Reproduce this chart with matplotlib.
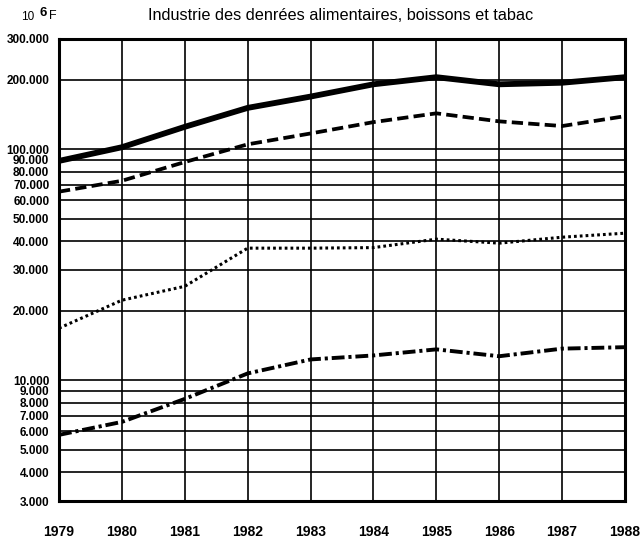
import matplotlib
matplotlib.use("Agg")
import matplotlib.pyplot as plt
from matplotlib.ticker import FixedLocator, NullLocator, NullFormatter

plt.rcParams['font.family'] = ['Liberation Sans', 'DejaVu Sans']

years = [1979, 1980, 1981, 1982, 1983, 1984, 1985, 1986, 1987, 1988]
series_solid = [89000, 102000, 125000, 151000, 169000, 191000, 205000, 191000, 194000, 205000]
series_dashed = [65500, 73000, 88000, 105000, 117000, 131000, 143000, 132000, 126000, 139000]
series_dotted = [16800, 22200, 25500, 37300, 37300, 37500, 40800, 39200, 41600, 43300]
series_dashdot = [5800, 6600, 8300, 10700, 12300, 12800, 13600, 12700, 13700, 13900]

y_ticks = [3000, 4000, 5000, 6000, 7000, 8000, 9000, 10000, 20000, 30000, 40000,
           50000, 60000, 70000, 80000, 90000, 100000, 200000, 300000]
y_labels = ["3.000", "4.000", "5.000", "6.000", "7.000", "8.000", "9.000", "10.000",
            "20.000", "30.000", "40.000", "50.000", "60.000", "70.000", "80.000",
            "90.000", "100.000", "200.000", "300.000"]
title = "Industrie des denrées alimentaires, boissons et tabac"

fig = plt.figure(figsize=(6.42, 5.41), dpi=100)
ax = fig.add_axes([59/642, 1 - 501/541, (625-59)/642, (501-39)/541])
ax.set_yscale('log')
ax.set_xlim(years[0], years[-1])
ax.set_ylim(3000, 300000)

for v in y_ticks[1:-1]:
    ax.axhline(v, color='black', lw=1.2, zorder=1)
for yr in years[1:-1]:
    ax.axvline(yr, color='black', lw=1.2, zorder=1)

ax.plot(years, series_solid, color='black', lw=4.2, solid_capstyle='butt', zorder=3)
ax.plot(years, series_dashed, color='black', lw=2.7, dashes=(3.0, 1.4), zorder=3)
ax.plot(years, series_dotted, color='black', lw=2.2, dashes=(0.9, 1.0), zorder=3)
ax.plot(years, series_dashdot, color='black', lw=2.8, dashes=(3.3, 1.0, 0.8, 1.0), zorder=3)

for s in ax.spines.values():
    s.set_linewidth(2.2)

ax.yaxis.set_major_locator(FixedLocator(y_ticks))
ax.set_yticklabels(y_labels)
ax.yaxis.set_minor_locator(NullLocator())
ax.yaxis.set_minor_formatter(NullFormatter())
ax.set_xticks(years)
ax.set_xticklabels([str(y) for y in years])
ax.tick_params(axis='y', length=0, pad=7, labelsize=8.5)
ax.tick_params(axis='x', length=0, pad=17, labelsize=10)
for lab in ax.get_yticklabels() + ax.get_xticklabels():
    lab.set_fontweight('bold')

fig.text(341/642, 1 - 15/541, title, ha='center', va='center', fontsize=11.7)
fig.text(21/642, 1 - 17/541, "10", ha='left', va='center', fontsize=8.5)
fig.text(39/642, 1 - 13/541, "6", ha='left', va='center', fontsize=9.5, fontweight='bold')
fig.text(49/642, 1 - 16/541, "F", ha='left', va='center', fontsize=9)

fig.savefig("out.png", dpi=100)
